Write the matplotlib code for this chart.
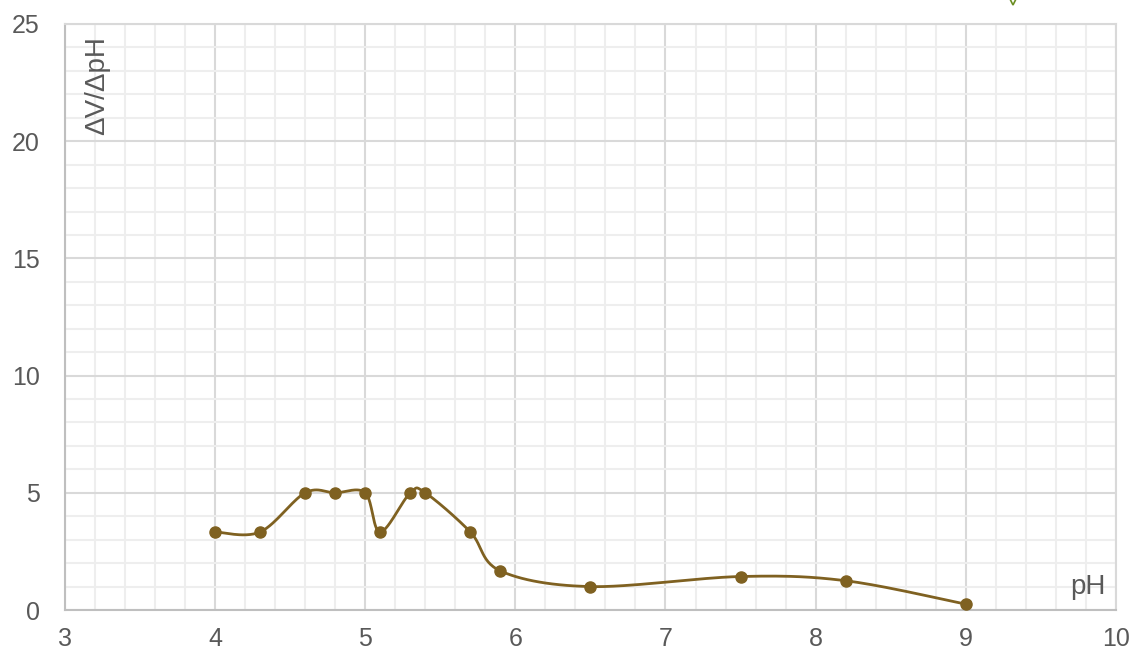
import numpy as np
import matplotlib.pyplot as plt
from matplotlib.ticker import MultipleLocator

ph = [4.0, 4.3, 4.6, 4.8, 5.0, 5.1, 5.3, 5.4, 5.7, 5.9, 6.5, 7.5, 8.2, 9.0]
dvdph = [3.33, 3.33, 5.0, 5.0, 5.0, 3.33, 5.0, 5.0, 3.33, 1.67, 1.0, 1.43, 1.25, 0.25]


def smooth(x, y, n=30):
    # excel-like smoothed line (catmull-rom as bezier)
    p = np.column_stack([x, y])
    out = [p[0]]
    for i in range(len(p) - 1):
        p0 = p[i - 1] if i > 0 else p[i]
        p3 = p[i + 2] if i + 2 < len(p) else p[i + 1]
        c1 = p[i] + (p[i + 1] - p0) / 6
        c2 = p[i + 1] - (p3 - p[i]) / 6
        t = np.linspace(0, 1, n)[1:, None]
        seg = ((1 - t) ** 3 * p[i] + 3 * (1 - t) ** 2 * t * c1
               + 3 * (1 - t) * t ** 2 * c2 + t ** 3 * p[i + 1])
        out.extend(seg)
    out = np.array(out)
    return out[:, 0], out[:, 1]


plt.rcParams['font.family'] = ['Liberation Sans', 'DejaVu Sans']
fig = plt.figure(figsize=(11.34, 6.57), dpi=100)
ax = fig.add_axes([0.0573, 0.0715, 0.9267, 0.892])

col = '#7f6121'
sx, sy = smooth(ph, dvdph)
ax.plot(sx, sy, color=col, lw=2, zorder=3)
ax.plot(ph, dvdph, 'o', color=col, ms=8, zorder=4)

ax.set_xlim(3, 10)
ax.set_ylim(0, 25)
ax.xaxis.set_major_locator(MultipleLocator(1))
ax.xaxis.set_minor_locator(MultipleLocator(0.2))
ax.yaxis.set_major_locator(MultipleLocator(5))
ax.yaxis.set_minor_locator(MultipleLocator(1))
ax.grid(which='major', color='#d9d9d9', lw=1.5)
ax.grid(which='minor', color='#eeeeee', lw=1.5)
ax.set_axisbelow(True)
ax.tick_params(which='both', length=0, labelsize=18, labelcolor='#595959')
ax.tick_params(axis='y', pad=18)
ax.tick_params(axis='x', pad=12)
for s in ['left', 'bottom']:
    ax.spines[s].set_color('#bfbfbf')
    ax.spines[s].set_linewidth(1.5)
for s in ['top', 'right']:
    ax.spines[s].set_color('#d9d9d9')
    ax.spines[s].set_linewidth(1.5)

ax.text(0.031, 0.98, 'ΔV/ΔpH', transform=ax.transAxes, rotation=90,
        ha='center', va='top', fontsize=20, color='#595959')
ax.text(0.99, 0.04, 'pH', transform=ax.transAxes, ha='right', va='center',
        fontsize=20, color='#595959')

# small clipped marker at the very top edge
fig.lines.append(plt.Line2D([1013 / 1134], [655 / 657], marker='v', ms=4,
                            mfc='none', mec='#6b8e23', mew=1.2,
                            transform=fig.transFigure))

fig.savefig('out.png', dpi=100)
